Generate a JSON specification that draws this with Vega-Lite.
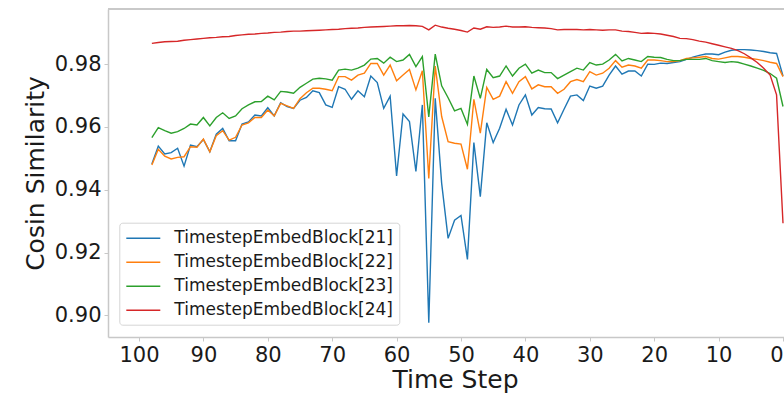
{
  "$schema": "https://vega.github.io/schema/vega-lite/v6.json",
  "width": 676,
  "height": 328,
  "autosize": {"type": "none"},
  "padding": {"left": 108, "top": 9, "right": 0, "bottom": 57},
  "background": "white",
  "config": {
    "view": {"stroke": null},
    "font": "DejaVu Sans",
    "axis": {
      "grid": false,
      "domainColor": "#c8c8c8",
      "domainWidth": 1.5,
      "tickColor": "#c8c8c8",
      "tickSize": 4,
      "tickWidth": 1,
      "labelFont": "DejaVu Sans",
      "labelFontSize": 21,
      "labelColor": "#1a1a1a",
      "titleFont": "DejaVu Sans",
      "titleFontSize": 25,
      "titleFontWeight": "normal",
      "titleColor": "#1a1a1a"
    },
    "legend": {
      "labelFont": "DejaVu Sans",
      "labelFontSize": 17,
      "labelColor": "#1a1a1a"
    }
  },
  "data": {
    "values": [
      {"t":98,"21":0.9482,"22":0.9479,"23":0.9566,"24":0.9866},
      {"t":97,"21":0.9539,"22":0.9529,"23":0.9598,"24":0.9869},
      {"t":96,"21":0.9514,"22":0.9507,"23":0.9588,"24":0.9871},
      {"t":95,"21":0.9518,"22":0.9498,"23":0.9580,"24":0.9872},
      {"t":94,"21":0.9532,"22":0.9503,"23":0.9585,"24":0.9873},
      {"t":93,"21":0.9475,"22":0.9505,"23":0.9595,"24":0.9876},
      {"t":92,"21":0.9542,"22":0.9537,"23":0.9609,"24":0.9878},
      {"t":91,"21":0.9537,"22":0.9535,"23":0.9606,"24":0.9880},
      {"t":90,"21":0.9560,"22":0.9561,"23":0.9630,"24":0.9882},
      {"t":89,"21":0.9521,"22":0.9521,"23":0.9603,"24":0.9884},
      {"t":88,"21":0.9577,"22":0.9572,"23":0.9630,"24":0.9885},
      {"t":87,"21":0.9595,"22":0.9588,"23":0.9645,"24":0.9887},
      {"t":86,"21":0.9556,"22":0.9558,"23":0.9627,"24":0.9888},
      {"t":85,"21":0.9556,"22":0.9567,"23":0.9635,"24":0.9891},
      {"t":84,"21":0.9609,"22":0.9606,"23":0.9658,"24":0.9893},
      {"t":83,"21":0.9616,"22":0.9613,"23":0.9670,"24":0.9895},
      {"t":82,"21":0.9638,"22":0.9630,"23":0.9680,"24":0.9896},
      {"t":81,"21":0.9635,"22":0.9630,"23":0.9681,"24":0.9898},
      {"t":80,"21":0.9661,"22":0.9654,"23":0.9698,"24":0.9899},
      {"t":79,"21":0.9635,"22":0.9635,"23":0.9686,"24":0.9901},
      {"t":78,"21":0.9677,"22":0.9675,"23":0.9713,"24":0.9902},
      {"t":77,"21":0.9665,"22":0.9667,"23":0.9711,"24":0.9904},
      {"t":76,"21":0.9659,"22":0.9659,"23":0.9707,"24":0.9905},
      {"t":75,"21":0.9685,"22":0.9690,"23":0.9726,"24":0.9905},
      {"t":74,"21":0.9694,"22":0.9709,"23":0.9739,"24":0.9906},
      {"t":73,"21":0.9715,"22":0.9723,"23":0.9752,"24":0.9907},
      {"t":72,"21":0.9709,"22":0.9723,"23":0.9755,"24":0.9908},
      {"t":71,"21":0.9670,"22":0.9720,"23":0.9753,"24":0.9909},
      {"t":70,"21":0.9662,"22":0.9715,"23":0.9749,"24":0.9910},
      {"t":69,"21":0.9728,"22":0.9760,"23":0.9781,"24":0.9911},
      {"t":68,"21":0.9720,"22":0.9760,"23":0.9784,"24":0.9913},
      {"t":67,"21":0.9688,"22":0.9749,"23":0.9781,"24":0.9914},
      {"t":66,"21":0.9715,"22":0.9765,"23":0.9787,"24":0.9915},
      {"t":65,"21":0.9696,"22":0.9771,"23":0.9797,"24":0.9917},
      {"t":64,"21":0.9762,"22":0.9802,"23":0.9816,"24":0.9918},
      {"t":63,"21":0.9741,"22":0.9802,"23":0.9818,"24":0.9919},
      {"t":62,"21":0.9659,"22":0.9765,"23":0.9803,"24":0.9920},
      {"t":61,"21":0.9698,"22":0.9797,"23":0.9822,"24":0.9921},
      {"t":60,"21":0.9444,"22":0.9747,"23":0.9808,"24":0.9922},
      {"t":59,"21":0.9641,"22":0.9765,"23":0.9813,"24":0.9922},
      {"t":58,"21":0.9617,"22":0.9783,"23":0.9831,"24":0.9923},
      {"t":57,"21":0.9458,"22":0.9718,"23":0.9792,"24":0.9922},
      {"t":56,"21":0.9670,"22":0.9779,"23":0.9824,"24":0.9920},
      {"t":55,"21":0.8976,"22":0.9436,"23":0.9632,"24":0.9909},
      {"t":54,"21":0.9691,"22":0.9794,"23":0.9832,"24":0.9924},
      {"t":53,"21":0.9420,"22":0.9633,"23":0.9731,"24":0.9918},
      {"t":52,"21":0.9245,"22":0.9553,"23":0.9693,"24":0.9914},
      {"t":51,"21":0.9303,"22":0.9548,"23":0.9651,"24":0.9911},
      {"t":50,"21":0.9318,"22":0.9545,"23":0.9659,"24":0.9907},
      {"t":49,"21":0.9178,"22":0.9465,"23":0.9608,"24":0.9902},
      {"t":48,"21":0.9550,"22":0.9688,"23":0.9762,"24":0.9915},
      {"t":47,"21":0.9378,"22":0.9580,"23":0.9691,"24":0.9911},
      {"t":46,"21":0.9613,"22":0.9726,"23":0.9783,"24":0.9919},
      {"t":45,"21":0.9550,"22":0.9688,"23":0.9757,"24":0.9917},
      {"t":44,"21":0.9596,"22":0.9698,"23":0.9762,"24":0.9918},
      {"t":43,"21":0.9656,"22":0.9744,"23":0.9794,"24":0.9921},
      {"t":42,"21":0.9606,"22":0.9707,"23":0.9762,"24":0.9918},
      {"t":41,"21":0.9670,"22":0.9744,"23":0.9787,"24":0.9918},
      {"t":40,"21":0.9702,"22":0.9760,"23":0.9800,"24":0.9919},
      {"t":39,"21":0.9638,"22":0.9721,"23":0.9771,"24":0.9917},
      {"t":38,"21":0.9662,"22":0.9734,"23":0.9781,"24":0.9916},
      {"t":37,"21":0.9658,"22":0.9728,"23":0.9773,"24":0.9915},
      {"t":36,"21":0.9657,"22":0.9728,"23":0.9773,"24":0.9913},
      {"t":35,"21":0.9613,"22":0.9707,"23":0.9754,"24":0.9909},
      {"t":34,"21":0.9656,"22":0.9720,"23":0.9765,"24":0.9910},
      {"t":33,"21":0.9698,"22":0.9744,"23":0.9776,"24":0.9910},
      {"t":32,"21":0.9702,"22":0.9751,"23":0.9787,"24":0.9910},
      {"t":31,"21":0.9684,"22":0.9744,"23":0.9781,"24":0.9909},
      {"t":30,"21":0.9730,"22":0.9776,"23":0.9805,"24":0.9910},
      {"t":29,"21":0.9723,"22":0.9765,"23":0.9797,"24":0.9909},
      {"t":28,"21":0.9730,"22":0.9771,"23":0.9800,"24":0.9908},
      {"t":27,"21":0.9765,"22":0.9787,"23":0.9813,"24":0.9909},
      {"t":26,"21":0.9794,"22":0.9811,"23":0.9831,"24":0.9909},
      {"t":25,"21":0.9768,"22":0.9790,"23":0.9810,"24":0.9905},
      {"t":24,"21":0.9778,"22":0.9797,"23":0.9818,"24":0.9904},
      {"t":23,"21":0.9778,"22":0.9794,"23":0.9813,"24":0.9901},
      {"t":22,"21":0.9762,"22":0.9787,"23":0.9808,"24":0.9898},
      {"t":21,"21":0.9800,"22":0.9813,"23":0.9824,"24":0.9899},
      {"t":20,"21":0.9799,"22":0.9813,"23":0.9822,"24":0.9898},
      {"t":19,"21":0.9803,"22":0.9811,"23":0.9821,"24":0.9896},
      {"t":18,"21":0.9802,"22":0.9808,"23":0.9815,"24":0.9892},
      {"t":17,"21":0.9805,"22":0.9808,"23":0.9811,"24":0.9888},
      {"t":16,"21":0.9808,"22":0.9811,"23":0.9811,"24":0.9882},
      {"t":15,"21":0.9815,"22":0.9818,"23":0.9815,"24":0.9881},
      {"t":14,"21":0.9822,"22":0.9820,"23":0.9815,"24":0.9878},
      {"t":13,"21":0.9828,"22":0.9822,"23":0.9815,"24":0.9873},
      {"t":12,"21":0.9832,"22":0.9824,"23":0.9818,"24":0.9870},
      {"t":11,"21":0.9832,"22":0.9818,"23":0.9811,"24":0.9865},
      {"t":10,"21":0.9830,"22":0.9816,"23":0.9808,"24":0.9860},
      {"t":9,"21":0.9838,"22":0.9820,"23":0.9805,"24":0.9855},
      {"t":8,"21":0.9844,"22":0.9824,"23":0.9808,"24":0.9850},
      {"t":7,"21":0.9846,"22":0.9824,"23":0.9806,"24":0.9843},
      {"t":6,"21":0.9846,"22":0.9822,"23":0.9800,"24":0.9833},
      {"t":5,"21":0.9845,"22":0.9818,"23":0.9794,"24":0.9820},
      {"t":4,"21":0.9843,"22":0.9815,"23":0.9787,"24":0.9805},
      {"t":3,"21":0.9840,"22":0.9811,"23":0.9780,"24":0.9787},
      {"t":2,"21":0.9836,"22":0.9806,"23":0.9770,"24":0.9765},
      {"t":1,"21":0.9834,"22":0.9802,"23":0.9755,"24":0.9702},
      {"t":0,"21":0.9762,"22":0.9760,"23":0.9665,"24":0.9293}
    ]
  },
  "layer": [
    {
      "transform": [{"fold": ["21", "22", "23", "24"], "as": ["block", "v"]}],
      "mark": {"type": "line", "strokeWidth": 1.4, "clip": true},
      "encoding": {
        "x": {
          "field": "t",
          "type": "quantitative",
          "scale": {"domain": [-0.155, 104.81], "reverse": true, "nice": false, "zero": false},
          "axis": {
            "values": [100, 90, 80, 70, 60, 50, 40, 30, 20, 10, 0],
            "format": "d",
            "labelPadding": 3,
            "title": "Time Step",
            "titleX": 347,
            "titleY": 50,
            "titleBaseline": "alphabetic",
            "titleAnchor": null
          }
        },
        "y": {
          "field": "v",
          "type": "quantitative",
          "scale": {"domain": [0.89309, 0.99755], "nice": false, "zero": false},
          "axis": {
            "values": [0.9, 0.92, 0.94, 0.96, 0.98],
            "format": ".2f",
            "labelPadding": 3,
            "title": "Cosin Similarity",
            "titleX": -65,
            "titleY": 164,
            "titleAngle": -90,
            "titleBaseline": "alphabetic",
            "titleAlign": "center"
          }
        },
        "color": {
          "field": "block",
          "type": "nominal",
          "scale": {
            "domain": ["21", "22", "23", "24"],
            "range": ["#1f77b4", "#ff7f0e", "#2ca02c", "#d62728"]
          },
          "legend": {
            "title": null,
            "orient": "none",
            "legendX": 11.3,
            "legendY": 213.7,
            "labelExpr": "'TimestepEmbedBlock[' + datum.label + ']'",
            "labelLimit": 400,
            "symbolType": "M-1,0H3",
            "symbolSize": 289,
            "symbolStrokeWidth": 1.5,
            "labelOffset": 30,
            "rowPadding": 6,
            "padding": 6,
            "fillColor": "rgba(255,255,255,0.85)",
            "strokeColor": "#d5d5d5",
            "cornerRadius": 3
          }
        }
      }
    },
    {
      "mark": {"type": "rule", "color": "#c8c8c8", "strokeWidth": 1.5},
      "encoding": {"y": {"datum": 0.99755}}
    }
  ]
}
